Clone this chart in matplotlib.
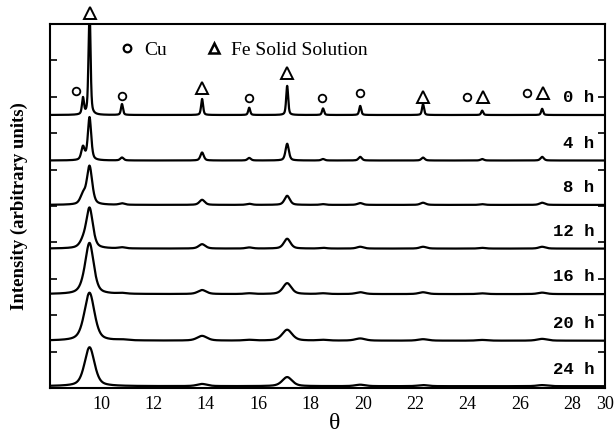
import numpy as np
import matplotlib
matplotlib.use("Agg")
import matplotlib.pyplot as plt
from matplotlib.lines import Line2D

# ---------------- data ----------------
times = ['0 h', '4 h', '8 h', '12 h', '16 h', '20 h', '24 h']
peak_pos = [9.31, 9.56, 10.80, 13.86, 15.66, 17.11, 18.48, 19.90, 22.30, 24.56, 26.85]
peak_phase = ['Cu', 'Fe', 'Cu', 'Fe', 'Cu', 'Fe', 'Cu', 'Cu', 'Fe', 'Fe', 'Fe']

h_0h = [0.45, 3.00, 0.30, 0.44, 0.20, 0.80, 0.18, 0.25, 0.30, 0.12, 0.17]
h_4h = [0.36, 1.18, 0.08, 0.22, 0.07, 0.46, 0.04, 0.10, 0.08, 0.04, 0.10]
h_8h = [0.25, 1.05, 0.04, 0.14, 0.03, 0.25, 0.02, 0.05, 0.06, 0.02, 0.06]
h_12h = [0.15, 1.10, 0.03, 0.12, 0.03, 0.27, 0.02, 0.05, 0.05, 0.02, 0.05]
h_16h = [0.08, 1.38, 0.02, 0.11, 0.02, 0.30, 0.02, 0.05, 0.05, 0.02, 0.04]
h_20h = [0.04, 1.30, 0.02, 0.13, 0.02, 0.30, 0.02, 0.06, 0.04, 0.02, 0.05]
h_24h = [0.00, 1.07, 0.00, 0.06, 0.00, 0.25, 0.00, 0.04, 0.03, 0.00, 0.03]
heights = [h_0h, h_4h, h_8h, h_12h, h_16h, h_20h, h_24h]
fwhm = [0.09, 0.15, 0.24, 0.30, 0.38, 0.45, 0.45]

# peak markers on the 0 h pattern
cu_mark_pos = [9.04, 10.80, 15.66, 18.45, 19.90, 23.99, 26.28]
cu_mark_int = [8.16, 8.02, 7.97, 7.97, 8.10, 7.99, 8.10]
fe_mark_pos = [9.58, 13.86, 17.11, 22.30, 24.60, 26.89]
fe_mark_int = [10.30, 8.24, 8.65, 7.99, 7.99, 8.10]

x_ticks = [10, 12, 14, 16, 18, 20, 22, 24, 26, 28]
x_tick_labels = ['10', '12', '14', '16', '18', '20', '22', '24', '26', '28', '30']

# ---------------- layout ----------------
x_min, x_max = 8.05, 29.25
offsets = [7.50, 6.25, 5.03, 3.83, 2.58, 1.30, 0.05]

def pseudo_voigt(x, c, h, w, eta=0.5):
    g = np.exp(-4 * np.log(2) * ((x - c) / w) ** 2)
    l = 1.0 / (1.0 + 4 * ((x - c) / w) ** 2)
    return h * (eta * l + (1 - eta) * g)

plt.rcParams['font.family'] = ['Liberation Serif', 'DejaVu Serif']

fig = plt.figure(figsize=(6.15, 4.37), dpi=100)
ax = fig.add_axes([0.0813, 0.1121, 0.9024, 0.8330])

theta = np.linspace(x_min, x_max, 6000)
for t, off, hs, w in zip(times, offsets, heights, fwhm):
    y = np.full_like(theta, off)
    for c, h in zip(peak_pos, hs):
        if h > 0:
            y += pseudo_voigt(theta, c, h, w)
    ax.plot(theta, y, color='black', lw=1.6)
    ax.text(28.85, off + 0.47, t, ha='right', va='center',
            family=['Liberation Mono', 'DejaVu Sans Mono'], fontweight='bold',
            fontsize=12.5)

ax.plot(cu_mark_pos, cu_mark_int, ls='none', marker='o', ms=5.5,
        mfc='white', mec='black', mew=1.3, clip_on=False)
ax.plot(fe_mark_pos, fe_mark_int, ls='none', marker='^', ms=8,
        mfc='white', mec='black', mew=1.4, clip_on=False)

handles = [Line2D([], [], ls='none', marker='o', ms=5.5, mfc='white', mec='black', mew=1.6),
           Line2D([], [], ls='none', marker='^', ms=7.5, mfc='white', mec='black', mew=1.8)]
ax.legend(handles, ['Cu', 'Fe Solid Solution'], ncol=2, frameon=False,
          loc='center left', bbox_to_anchor=(0.121, 0.929), borderaxespad=0,
          borderpad=0, handlelength=1.0, handletextpad=0.4, columnspacing=1.9,
          prop={'family': 'Liberation Serif', 'size': 14})

ax.set_xlim(x_min, x_max)
ax.set_ylim(0, 10)
ax.set_xticks(x_ticks + [x_max])
ax.set_xticklabels(x_tick_labels, fontsize=13)
ax.set_yticks(np.arange(1, 10))
ax.set_yticklabels([])
ax.tick_params(axis='y', direction='in', length=5, width=1.2, left=True, right=True)
ax.tick_params(axis='x', direction='in', length=0, pad=6)
for s in ax.spines.values():
    s.set_linewidth(1.5)

ax.set_xlabel('θ', fontsize=17, labelpad=0)
ax.set_ylabel('Intensity (arbitrary units)', fontsize=13.5, fontweight='bold')
ax.yaxis.set_label_coords(-0.04, 0.5)
ax.xaxis.set_label_coords(0.513, -0.07)

fig.savefig('out.png', dpi=100)
